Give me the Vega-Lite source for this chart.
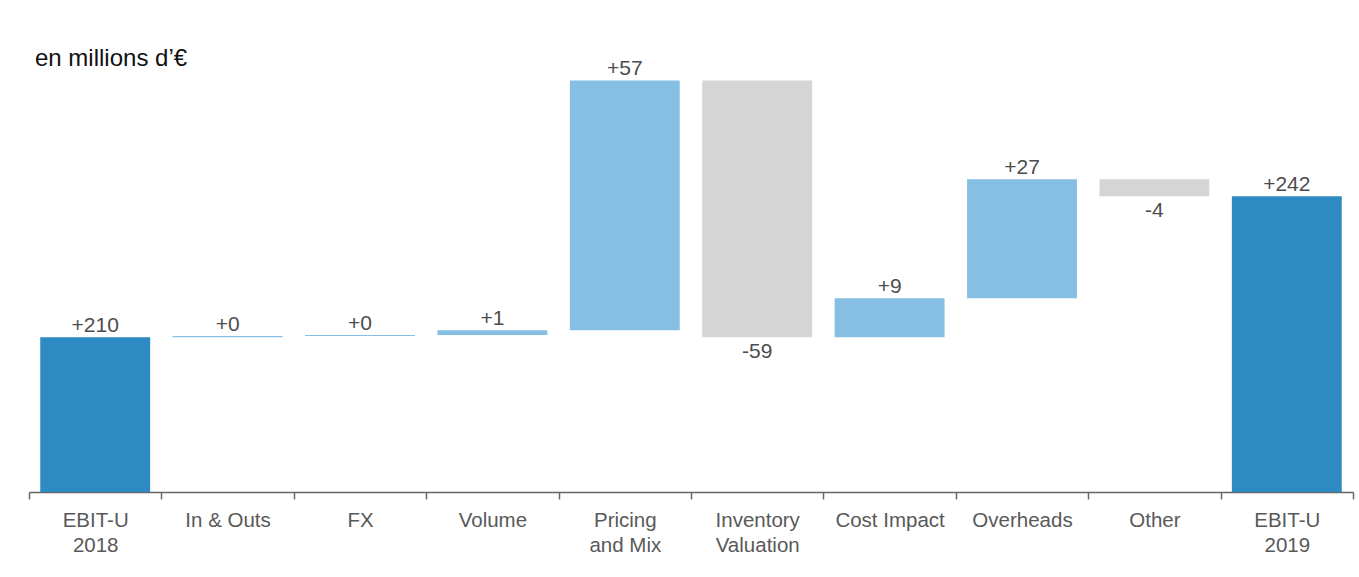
{
  "$schema": "https://vega.github.io/schema/vega-lite/v6.json",
  "autosize": "none",
  "width": 1324,
  "height": 461,
  "padding": {"left": 29, "top": 31, "right": 6, "bottom": 85},
  "background": "white",
  "config": {
    "view": {"stroke": null},
    "font": "Liberation Sans"
  },
  "title": {
    "text": "en millions d’€",
    "anchor": "start",
    "frame": "group",
    "orient": "top",
    "offset": -40,
    "dx": 6,
    "fontSize": 24,
    "fontWeight": "normal",
    "color": "#111111",
    "font": "Liberation Sans"
  },
  "data": {
    "values": [
      {"cat": "EBIT-U|2018", "start": 174.6, "end": 210.0, "label": "+210", "type": "total"},
      {"cat": "In & Outs", "start": 210.0, "end": 210.25, "label": "+0", "type": "pos"},
      {"cat": "FX", "start": 210.25, "end": 210.5, "label": "+0", "type": "pos"},
      {"cat": "Volume", "start": 210.5, "end": 211.6, "label": "+1", "type": "pos"},
      {"cat": "Pricing|and Mix", "start": 211.6, "end": 268.7, "label": "+57", "type": "pos"},
      {"cat": "Inventory|Valuation", "start": 268.7, "end": 210.0, "label": "-59", "type": "neg"},
      {"cat": "Cost Impact", "start": 210.0, "end": 218.9, "label": "+9", "type": "pos"},
      {"cat": "Overheads", "start": 218.9, "end": 246.1, "label": "+27", "type": "pos"},
      {"cat": "Other", "start": 246.1, "end": 242.2, "label": "-4", "type": "neg"},
      {"cat": "EBIT-U|2019", "start": 174.6, "end": 242.2, "label": "+242", "type": "total"}
    ]
  },
  "encoding": {
    "x": {
      "field": "cat",
      "type": "nominal",
      "sort": null,
      "scale": {"paddingInner": 0, "paddingOuter": 0},
      "axis": {
        "title": null,
        "labelAngle": 0,
        "tickBand": "extent",
        "labelExpr": "isValid(datum.value) ? split(datum.value, '|') : ''",
        "labelFontSize": 20.5,
        "labelColor": "#595959",
        "labelFont": "Liberation Sans",
        "labelLineHeight": 25,
        "labelPadding": 11,
        "domainColor": "#666666",
        "domainWidth": 1.5,
        "tickColor": "#666666",
        "tickWidth": 1.5,
        "tickSize": 7,
        "grid": false
      }
    }
  },
  "layer": [
    {
      "mark": {"type": "bar", "width": {"band": 0.83}},
      "encoding": {
        "y": {
          "field": "start",
          "type": "quantitative",
          "scale": {"domain": [174.6, 280], "nice": false, "zero": false},
          "axis": null
        },
        "y2": {"field": "end"},
        "color": {
          "field": "type",
          "type": "nominal",
          "scale": {"domain": ["total", "pos", "neg"], "range": ["#2d8ac2", "#86bfe3", "#d5d5d5"]},
          "legend": null
        }
      }
    },
    {
      "transform": [{"filter": "datum.type !== 'neg'"}],
      "mark": {"type": "text", "baseline": "alphabetic", "dy": -5, "fontSize": 21, "color": "#4d4d4d", "font": "Liberation Sans"},
      "encoding": {
        "y": {"field": "end", "type": "quantitative"},
        "text": {"field": "label"}
      }
    },
    {
      "transform": [{"filter": "datum.type === 'neg'"}],
      "mark": {"type": "text", "baseline": "top", "dy": 4, "fontSize": 21, "color": "#4d4d4d", "font": "Liberation Sans"},
      "encoding": {
        "y": {"field": "end", "type": "quantitative"},
        "text": {"field": "label"}
      }
    }
  ]
}
